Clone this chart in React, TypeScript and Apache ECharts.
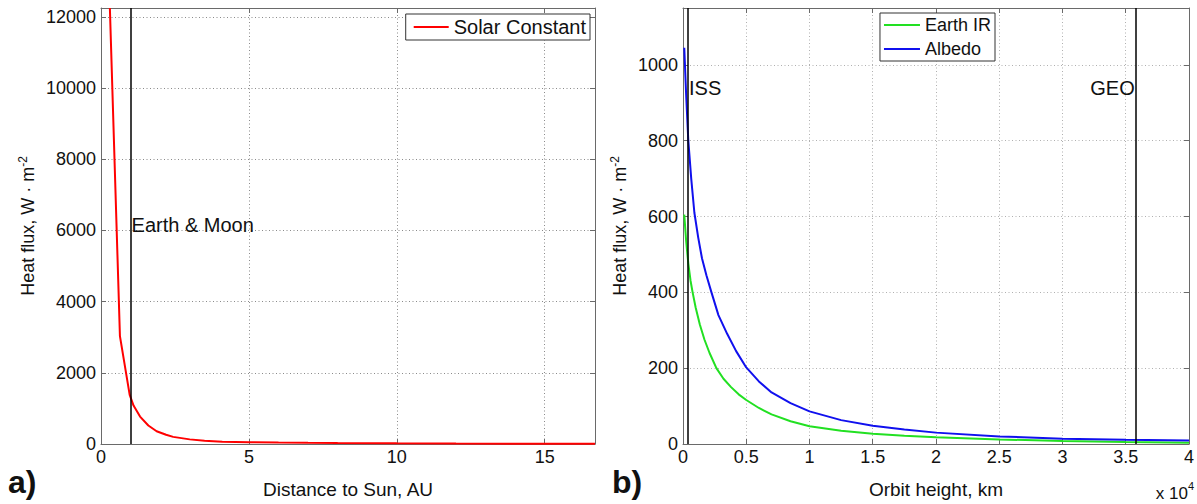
import React, { useEffect, useRef } from "react";
import * as echarts from "echarts";

// ---- Panel a: solar constant vs distance to Sun ----
const solarDist = [0.3, 0.64, 0.97, 1.1, 1.32, 1.6, 1.88, 2.2, 2.44, 3.0, 3.5, 4.1, 5.0, 6.0, 7.0, 8.0, 10, 12, 14, 16.7];
const solarFlux = [12250, 3030, 1380, 1080, 770, 520, 358, 260, 200, 130, 92, 63, 50, 40, 32, 26, 18, 13, 10, 7];
const earthDist = 1;
const earthLabelY = 6150;
const leftXTicks = [0, 5, 10, 15];

// ---- Panel b: Earth IR and albedo vs orbit height ----
const irHeight = [100, 250, 420, 600, 760, 1000, 1330, 1700, 2100, 2640, 3200, 3800, 4400, 5000, 6000, 7000, 8500, 10000, 12500, 15000, 17500, 20000, 25000, 30000, 35000, 40000];
const irFlux = [605, 535, 476, 430, 400, 360, 315, 275, 240, 200, 172, 150, 131, 116, 95, 78, 60, 47, 35, 27, 22, 18, 12, 8, 5, 3];
const albHeight = [100, 250, 420, 650, 900, 1200, 1500, 1850, 2250, 2800, 3500, 4200, 5000, 6000, 7000, 8500, 10000, 12500, 15000, 17500, 20000, 25000, 30000, 35000, 40000];
const albFlux = [1045, 920, 800, 700, 610, 545, 490, 445, 400, 340, 290, 245, 202, 165, 136, 108, 86, 63, 48, 38, 30, 20, 14, 11, 9];
const issHeight = 400;
const geoHeight = 35786;
const orbitLabelY = 938;

const FONT = "'Liberation Sans', Arial, sans-serif";
const AXIS_COLOR = "#6a6a6a";
const TEXT = "#111";

function zip(a: number[], b: number[]) {
  return a.map((v, i) => [v, b[i]]);
}

export default function App() {
  const ref = useRef<HTMLDivElement>(null);
  useEffect(() => {
    if (!ref.current) return;
    const chart = echarts.init(ref.current, undefined, { renderer: "svg" });

    const tick = { show: true, inside: true, length: 5, lineStyle: { color: AXIS_COLOR } };
    const line = { show: true, onZero: false, lineStyle: { color: AXIS_COLOR, width: 1 } };
    const labelStyle = { fontSize: 18, color: TEXT, fontFamily: FONT };
    const split = (c: string) => ({ show: true, lineStyle: { color: c, type: [1, 2.5], width: 1 } });
    const yName = {
      fontSize: 18,
      color: TEXT,
      fontFamily: FONT,
      rich: {
        b: { fontSize: 18, color: TEXT, fontFamily: FONT, lineHeight: 22 },
        sup: { fontSize: 12, color: TEXT, fontFamily: FONT, verticalAlign: "top", lineHeight: 22, padding: [0, 0, 8, 0] },
      },
    };

    const option: any = {
      animation: false,
      backgroundColor: "#fff",
      textStyle: { fontFamily: FONT },
      grid: [
        { left: 101, right: 602, top: 8, bottom: 52, show: false },
        { left: 683, right: 4, top: 8, bottom: 52, show: false },
      ],
      xAxis: [
        {
          type: "value", gridIndex: 0, min: 0, max: 16.7, interval: 5,
          axisLine: line, axisTick: tick,
          axisLabel: { ...labelStyle, margin: 4, showMaxLabel: false, formatter: (v: number) => (leftXTicks.includes(v) ? String(v) : "") },
          splitLine: split("#8a8a8a"),
          name: "Distance to Sun, AU", nameLocation: "middle", nameGap: 36,
          nameTextStyle: { fontSize: 19, color: TEXT, fontFamily: FONT },
        },
        {
          type: "value", gridIndex: 0, position: "top", min: 0, max: 16.7, interval: 5,
          axisLine: line, axisTick: tick, axisLabel: { show: false }, splitLine: { show: false },
        },
        {
          type: "value", gridIndex: 1, min: 0, max: 40000, interval: 5000,
          axisLine: line, axisTick: tick,
          axisLabel: { ...labelStyle, margin: 4, formatter: (v: number) => String(v / 10000) },
          splitLine: split("#b0b0b0"),
          name: "Orbit height, km", nameLocation: "middle", nameGap: 36,
          nameTextStyle: { fontSize: 19, color: TEXT, fontFamily: FONT },
        },
        {
          type: "value", gridIndex: 1, position: "top", min: 0, max: 40000, interval: 5000,
          axisLine: line, axisTick: tick, axisLabel: { show: false }, splitLine: { show: false },
        },
      ],
      yAxis: [
        {
          type: "value", gridIndex: 0, min: 0, max: 12250, interval: 2000,
          axisLine: line, axisTick: tick,
          axisLabel: { ...labelStyle, margin: 5, showMaxLabel: false, formatter: (v: number) => String(v) },
          splitLine: split("#8a8a8a"),
          name: "{b|Heat flux, W · m}{sup|-2}", nameLocation: "middle", nameGap: 62,
          nameTextStyle: yName,
        },
        {
          type: "value", gridIndex: 0, position: "right", min: 0, max: 12250, interval: 2000,
          axisLine: line, axisTick: tick, axisLabel: { show: false }, splitLine: { show: false },
        },
        {
          type: "value", gridIndex: 1, min: 0, max: 1150, interval: 200,
          axisLine: line, axisTick: tick,
          axisLabel: { ...labelStyle, margin: 5, showMaxLabel: false, formatter: (v: number) => String(v) },
          splitLine: split("#b0b0b0"),
          name: "{b|Heat flux, W · m}{sup|-2}", nameLocation: "middle", nameGap: 52,
          nameTextStyle: yName,
        },
        {
          type: "value", gridIndex: 1, position: "right", min: 0, max: 1150, interval: 200,
          axisLine: line, axisTick: tick, axisLabel: { show: false }, splitLine: { show: false },
        },
      ],
      legend: [
        {
          data: ["Solar Constant"], orient: "vertical", right: 607, top: 14,
          icon: "rect", itemWidth: 35, itemHeight: 2,
          borderColor: "#333", borderWidth: 1, borderRadius: 0, backgroundColor: "#fff",
          padding: [3, 4, 3, 8],
          textStyle: { fontSize: 20, color: TEXT, fontFamily: FONT },
        },
        {
          data: ["Earth IR", "Albedo"], orient: "vertical", right: 202, top: 13,
          icon: "rect", itemWidth: 36, itemHeight: 2, itemGap: 6,
          borderColor: "#333", borderWidth: 1, borderRadius: 0, backgroundColor: "#fff",
          padding: [3, 4, 3, 4],
          textStyle: { fontSize: 18, color: TEXT, fontFamily: FONT },
        },
      ],
      series: [
        {
          name: "Solar Constant", type: "line", xAxisIndex: 0, yAxisIndex: 0,
          data: zip(solarDist, solarFlux), showSymbol: false, symbol: "none",
          lineStyle: { color: "#ff0000", width: 2 }, itemStyle: { color: "#ff0000" },
          markLine: {
            silent: true, symbol: ["none", "none"], label: { show: false },
            lineStyle: { color: "#000", width: 1.5, type: "solid" },
            data: [{ xAxis: earthDist }],
          },
        },
        {
          name: "earthLabel", type: "scatter", xAxisIndex: 0, yAxisIndex: 0,
          symbolSize: 0, data: [[earthDist, earthLabelY]],
          itemStyle: { opacity: 1, color: "rgba(0,0,0,0)" },
          label: { show: true, position: "right", distance: 1, formatter: "Earth & Moon", fontSize: 20, color: TEXT, fontFamily: FONT, opacity: 1 },
        },
        {
          name: "Earth IR", type: "line", xAxisIndex: 2, yAxisIndex: 2,
          data: zip(irHeight, irFlux), showSymbol: false, symbol: "none",
          lineStyle: { color: "#22e022", width: 2 }, itemStyle: { color: "#22e022" },
        },
        {
          name: "Albedo", type: "line", xAxisIndex: 2, yAxisIndex: 2,
          data: zip(albHeight, albFlux), showSymbol: false, symbol: "none",
          lineStyle: { color: "#1010ee", width: 2 }, itemStyle: { color: "#1010ee" },
          markLine: {
            silent: true, symbol: ["none", "none"], label: { show: false },
            lineStyle: { color: "#000", width: 1.5, type: "solid" },
            data: [{ xAxis: issHeight }, { xAxis: geoHeight }],
          },
        },
        {
          name: "orbitLabels", type: "scatter", xAxisIndex: 2, yAxisIndex: 2,
          symbolSize: 0,
          itemStyle: { opacity: 1, color: "rgba(0,0,0,0)" },
          data: [
            { value: [issHeight, orbitLabelY], label: { position: "right", formatter: "ISS" } },
            { value: [geoHeight, orbitLabelY], label: { position: "left", formatter: "GEO" } },
          ],
          label: { show: true, distance: 1, fontSize: 20, color: TEXT, fontFamily: FONT, opacity: 1 },
        },
      ],
      graphic: [
        { type: "text", left: 8, top: 466, style: { text: "a)", fontSize: 32, fontWeight: "bold", fill: "#111", fontFamily: FONT } },
        { type: "text", left: 612, top: 466, style: { text: "b)", fontSize: 32, fontWeight: "bold", fill: "#111", fontFamily: FONT } },
        {
          type: "text", right: 3, top: 480,
          style: {
            text: "{b|x 10}{s|4}",
            rich: {
              b: { fontSize: 17, fill: TEXT, fontFamily: FONT, lineHeight: 22, verticalAlign: "bottom" },
              s: { fontSize: 11, fill: TEXT, fontFamily: FONT, lineHeight: 22, verticalAlign: "top" },
            },
          },
        },
      ],
    };
    chart.setOption(option);
    return () => chart.dispose();
  }, []);
  return <div ref={ref} style={{ position: "absolute", left: 0, top: 0, width: 1197, height: 504, background: "#fff" }} />;
}
